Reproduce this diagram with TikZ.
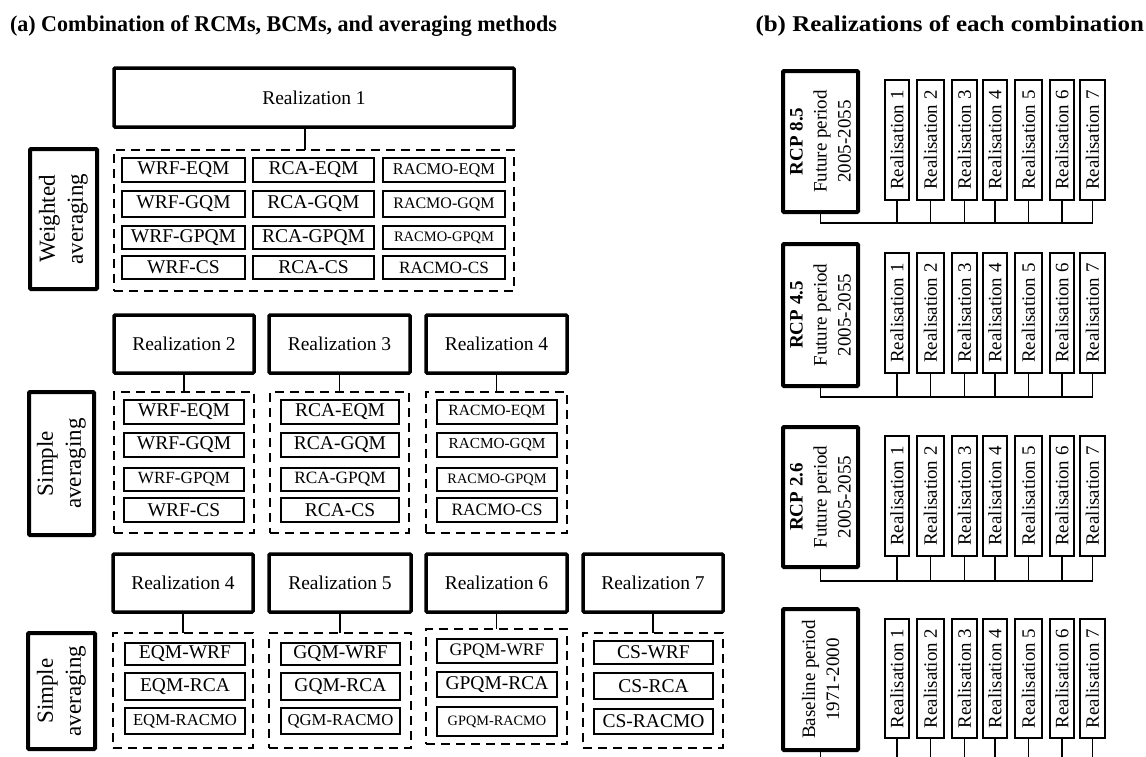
\documentclass[tikz,border=0pt]{standalone}
\usepackage{fontspec}
\setmainfont{Liberation Serif}
\newcommand\fs[1]{\fontsize{#1}{#1}\selectfont}
\newcommand\fsl[2]{\fontsize{#1}{#2}\selectfont}
\newcommand\mybox[7]{%
 \pgfmathsetmacro\mbw{#5-#3}\pgfmathsetmacro\mbh{#6-#4}%
 \pgfmathsetmacro\mbx{(#3+#5)/2}\pgfmathsetmacro\mby{(#4+#6)/2}%
 \node[#1, minimum width=\mbw pt, minimum height=\mbh pt] (#2) at (\mbx,\mby) {#7};}
\newcommand\myrbox[7]{%
 \pgfmathsetmacro\mbw{#5-#3}\pgfmathsetmacro\mbh{#6-#4}%
 \pgfmathsetmacro\mbx{(#3+#5)/2}\pgfmathsetmacro\mby{(#4+#6)/2}%
 \node[#1, rotate=90, minimum width=\mbh pt, minimum height=\mbw pt] (#2) at (\mbx,\mby) {#7};}
\tikzset{
 every node/.style={inner sep=0pt, outer sep=0pt, align=center, text=black},
 realbox/.style={draw, line width=3.5pt, rounded corners=1pt, font=\fs{19.5}},
 ibox/.style={draw, line width=1.2pt, font=\fs{19.5}},
 dbox/.style={draw, line width=1.8pt, dash pattern=on 9pt off 6pt},
 labbox/.style={draw, line width=4pt, rounded corners=1pt, font=\fsl{23}{28}},
 rcpbox/.style={draw, line width=4pt, rounded corners=1pt, font=\fsl{19}{24}},
 rsbox/.style={draw, line width=1.3pt, font=\fs{18.9}},
 conn/.style={line width=1.3pt},
 titletext/.style={font=\bfseries\fs{22.5}}
}
\begin{document}
\begin{tikzpicture}[x=1pt,y=-1pt]
\useasboundingbox (0,0) rectangle (1146,756);
% titles
\node[titletext, xscale=0.98, anchor=base west] (ta) at (10,31) {(a) Combination of RCMs, BCMs, and averaging methods};
\node[titletext, xscale=1.11, anchor=base east] (tb) at (1144,31) {(b) Realizations of each combination};

% ---------- row 1 ----------
\mybox{realbox}{r1}{114}{68}{514}{127}{Realization 1}
\mybox{dbox}{d1}{114}{150}{514}{291}{}
\myrbox{labbox}{wa}{30}{149}{97}{289}{Weighted\\averaging}
\coordinate (c1) at (305,0);
\draw[conn] (r1.south -| c1) -- (d1.north -| c1);
\foreach \n/\ya/\yb/\ta/\tb/\tc in {
 1/158/182/{WRF-EQM}/{RCA-EQM}/{\fs{16.4}RACMO-EQM},
 2/191/217/{WRF-GQM}/{RCA-GQM}/{\fs{16}RACMO-GQM},
 3/226/249/{WRF-GPQM}/{RCA-GPQM}/{\fs{14.5}RACMO-GPQM},
 4/256/279/{WRF-CS}/{RCA-CS}/{\fs{17.2}RACMO-CS}}{
 \mybox{ibox}{a1\n}{122}{\ya}{245}{\yb}{\ta}
 \mybox{ibox}{b1\n}{253}{\ya}{374}{\yb}{\tb}
 \mybox{ibox}{c1\n}{383}{\ya}{505}{\yb}{\tc}
}

% ---------- row 2 ----------
\mybox{realbox}{r2}{114}{315}{254}{373}{Realization 2}
\mybox{realbox}{r3}{269}{315}{410}{373}{Realization 3}
\mybox{realbox}{r4}{426}{315}{567}{373}{Realization 4}
\mybox{dbox}{d2}{114}{392}{254}{533}{}
\mybox{dbox}{d3}{270}{392}{409}{533}{}
\mybox{dbox}{d4}{426}{392}{567}{533}{}
\myrbox{labbox}{sa1}{29}{392}{94}{535}{Simple\\averaging}
\draw[conn] (r2.south) -- (d2.north);
\draw[conn] (r3.south) -- (d3.north);
\draw[conn] (r4.south) -- (d4.north);
\foreach \n/\ya/\yb/\ta/\tb/\tc in {
 1/400/424/{WRF-EQM}/{RCA-EQM}/{\fs{15.6}RACMO-EQM},
 2/433/457/{WRF-GQM}/{RCA-GQM}/{\fs{15.3}RACMO-GQM},
 3/468/491/{\fs{17.1}WRF-GPQM}/{\fs{17.3}RCA-GPQM}/{\fs{14.4}RACMO-GPQM},
 4/498/522/{WRF-CS}/{RCA-CS}/{\fs{17.4}RACMO-CS}}{
 \mybox{ibox}{a2\n}{124}{\ya}{244}{\yb}{\ta}
 \mybox{ibox}{b2\n}{281}{\ya}{399}{\yb}{\tb}
 \mybox{ibox}{c2\n}{437}{\ya}{557}{\yb}{\tc}
}

% ---------- row 3 ----------
\mybox{realbox}{s4}{113}{554}{253}{612}{Realization 4}
\mybox{realbox}{s5}{269}{554}{411}{612}{Realization 5}
\mybox{realbox}{s6}{426}{554}{567}{612}{Realization 6}
\mybox{realbox}{s7}{583}{554}{723}{612}{Realization 7}
\mybox{dbox}{e4}{113}{633}{253}{748}{}
\mybox{dbox}{e5}{269}{633}{411}{748}{}
\mybox{dbox}{e6}{426}{629}{567}{744}{}
\mybox{dbox}{e7}{583}{633}{723}{748}{}
\myrbox{labbox}{sa2}{28}{633}{95}{749}{Simple\\averaging}
\draw[conn] (s4.south) -- (e4.north);
\draw[conn] (s5.south) -- (e5.north);
\draw[conn] (s6.south) -- (e6.north);
\draw[conn] (s7.south) -- (e7.north);
\mybox{ibox}{f41}{125}{643}{245}{665}{EQM-WRF}
\mybox{ibox}{f42}{125}{673}{245}{700}{EQM-RCA}
\mybox{ibox}{f43}{125}{708}{245}{734}{\fs{16.7}EQM-RACMO}
\mybox{ibox}{f51}{281}{643}{400}{665}{GQM-WRF}
\mybox{ibox}{f52}{281}{673}{400}{700}{GQM-RCA}
\mybox{ibox}{f53}{281}{708}{400}{734}{\fs{16.7}QGM-RACMO}
\mybox{ibox}{f61}{437}{639}{557}{663}{\fs{17.6}GPQM-WRF}
\mybox{ibox}{f62}{437}{672}{557}{697}{GPQM-RCA}
\mybox{ibox}{f63}{437}{707}{557}{736}{\fs{14.3}GPQM-RACMO}
\mybox{ibox}{f71}{594}{641}{713}{664}{CS-WRF}
\mybox{ibox}{f72}{594}{673}{713}{699}{CS-RCA}
\mybox{ibox}{f73}{594}{709}{713}{734}{CS-RACMO}

% ---------- right side ----------
\coordinate (bus1) at (0,223);
\coordinate (bus2) at (0,397);
\coordinate (bus3) at (0,581);
\coordinate (edge) at (0,757);
\myrbox{rcpbox}{g1}{783}{71}{858}{212}{\textbf{RCP 8.5}\\Future period\\2005-2055}
\myrbox{rcpbox}{g2}{783}{244}{858}{386}{\textbf{RCP 4.5}\\Future period\\2005-2055}
\myrbox{rcpbox}{g3}{783}{427}{858}{567}{\textbf{RCP 2.6}\\Future period\\2005-2055}
\myrbox{rcpbox}{g4}{783}{609}{858}{750}{Baseline period\\1971-2000}
\foreach \g/\ya/\yb in {1/80/200, 2/253/373, 3/436/556, 4/619/738}{
 \foreach \k/\xa/\xb in {1/885/909, 2/917/944, 3/952/977, 4/983/1007, 5/1015/1042, 6/1050/1074, 7/1080/1105}{
  \myrbox{rsbox}{q\g\k}{\xa}{\ya}{\xb}{\yb}{Realisation \k}
 }
}
% rotated nodes: .west is the bottom side
\foreach \g in {1,2,3}{
 \draw[conn] (g\g.west) |- (q\g7.west |- bus\g) -- (q\g7.west);
 \foreach \k in {1,...,6}{
  \draw[conn] (q\g\k.west) -- (q\g\k.west |- bus\g);
 }
}
\draw[conn] (g4.west) -- (g4.west |- edge);
\foreach \k in {1,...,7}{
 \draw[conn] (q4\k.west) -- (q4\k.west |- edge);
}
\end{tikzpicture}
\end{document}
